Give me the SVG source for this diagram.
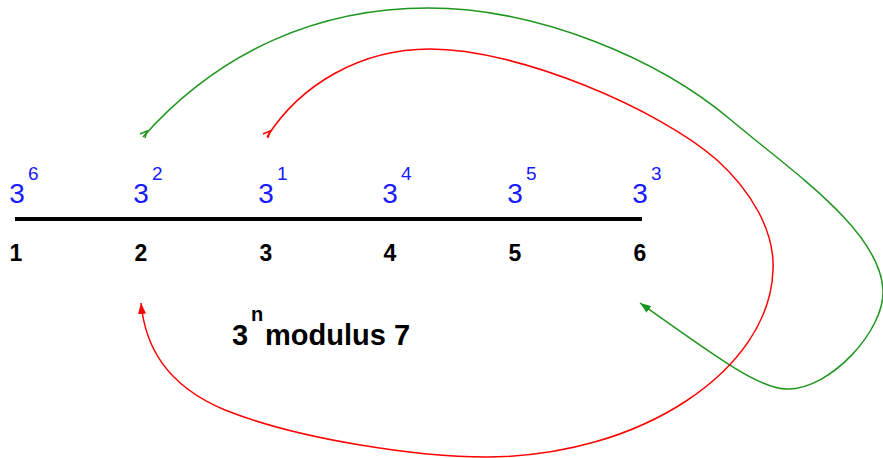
<svg xmlns="http://www.w3.org/2000/svg" width="883" height="458" viewBox="0 0 883 458">
<style>
.pw{font-family:"Liberation Sans",Arial,sans-serif;fill:#1a1aff}
.b{font-size:28px;text-anchor:middle}
.e{font-size:19px}
.n{font-family:"Liberation Sans",Arial,sans-serif;font-weight:bold;font-size:23px;text-anchor:middle;fill:#000}
.lab{font-family:"Liberation Sans",Arial,sans-serif;font-weight:bold;fill:#000}
.g{stroke:#1e961e;fill:none;stroke-width:1.5}
.r{stroke:#ff0000;fill:none;stroke-width:1.5}
</style>
<defs>
<marker id="ag" markerUnits="userSpaceOnUse" markerWidth="12" markerHeight="8" refX="11" refY="4" orient="auto"><path d="M0,0 L11,4 L0,8 z" fill="#1e961e"/></marker>
<marker id="ar" markerUnits="userSpaceOnUse" markerWidth="12" markerHeight="8" refX="11" refY="4" orient="auto"><path d="M0,0 L11,4 L0,8 z" fill="#ff0000"/></marker>
</defs>
<g id="axis"><line x1="15" y1="219" x2="642" y2="219" stroke="#000" stroke-width="4"/></g>
<g id="n1"><text class="pw b" x="17" y="203">3</text><text class="pw e" x="28" y="180">6</text><text class="n" x="16" y="261">1</text></g>
<g id="n2"><text class="pw b" x="141" y="203">3</text><text class="pw e" x="152" y="180">2</text><text class="n" x="141" y="261">2</text></g>
<g id="n3"><text class="pw b" x="266" y="203">3</text><text class="pw e" x="277" y="180">1</text><text class="n" x="266" y="261">3</text></g>
<g id="n4"><text class="pw b" x="390" y="203">3</text><text class="pw e" x="401" y="180">4</text><text class="n" x="390" y="261">4</text></g>
<g id="n5"><text class="pw b" x="515" y="203">3</text><text class="pw e" x="526" y="180">5</text><text class="n" x="515" y="261">5</text></g>
<g id="n6"><text class="pw b" x="640" y="203">3</text><text class="pw e" x="651" y="180">3</text><text class="n" x="640" y="261">6</text></g>
<g id="label"><text class="lab" x="232" y="345" font-size="29">3</text><text class="lab" x="251" y="321" font-size="20">n</text><text class="lab" x="265" y="345" font-size="29">modulus 7</text></g>
<g id="connectors">
<path class="g" d="M143,137 C220,50 320,8 428,8 C540,8 660,60 731,120 C790,170 880,230 883,290 C885,330 830,390 787,389 C760,389 720,360 640,303" marker-end="url(#ag)"/>
<polyline class="g" points="140,134 147,131 145,138"/>
<path class="r" d="M267,137 C300,85 360,49 430,49 C520,49 660,110 717,160 C750,190 775,230 773,270 C770,370 640,457 486,457 C420,457 300,440 225,410 C165,385 145,345 141,303" marker-end="url(#ar)"/>
<polyline class="r" points="263,134 270,131 268,138"/>
</g>
</svg>
